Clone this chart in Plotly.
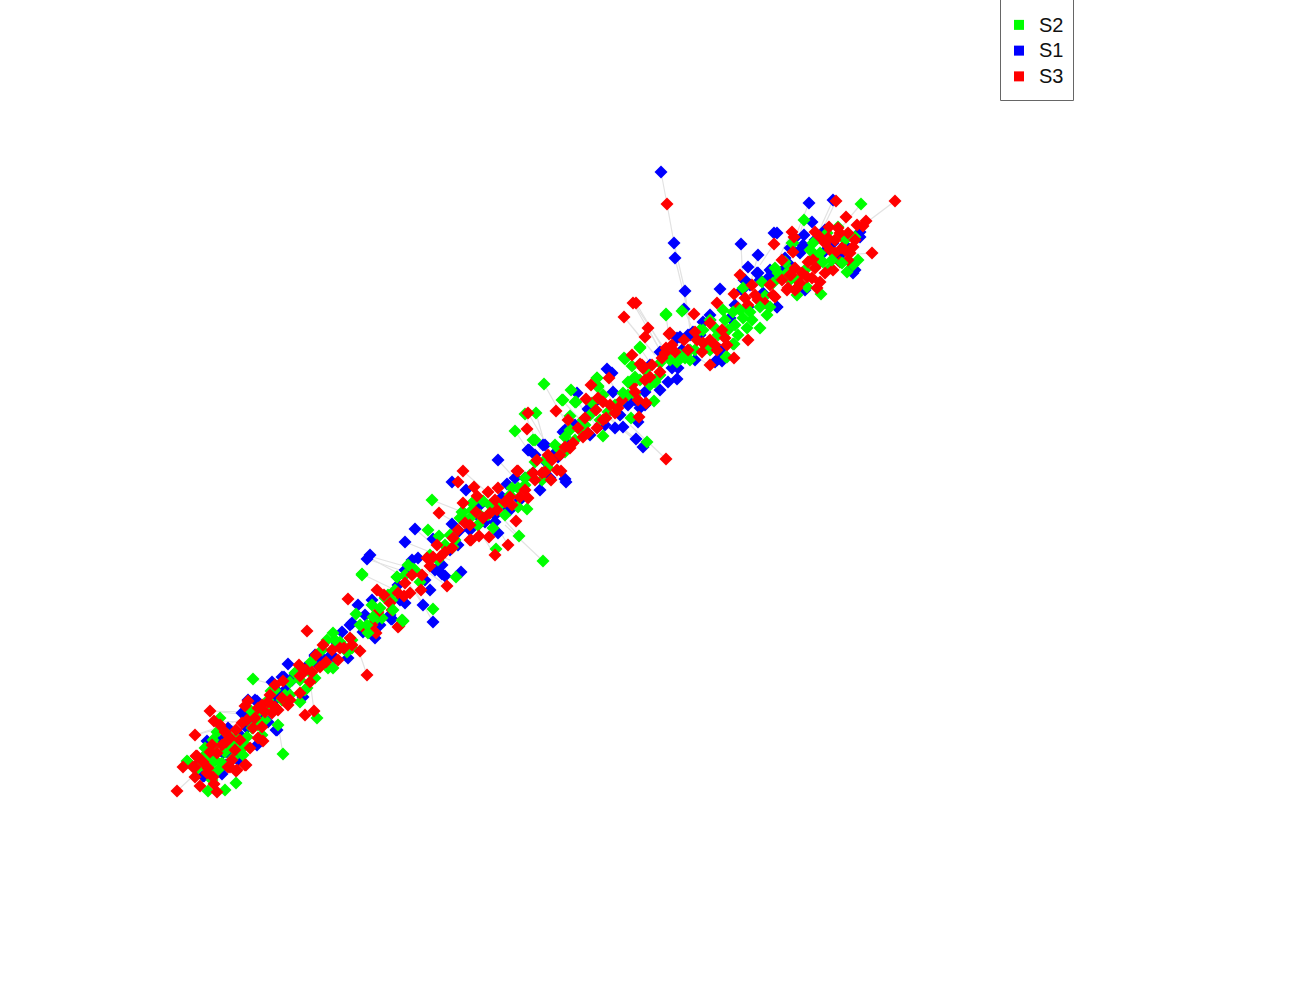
import plotly.graph_objects as go

s2_points = [
(861,204),(804,220),(666,315),(682,311),(640,348),(625,359),(760,328),(821,294),(743,288),(734,344),(726,357),(793,243),
(283,754),(253,679),(317,718),(208,791),(225,790),(236,783),(187,761),(220,718),(271,691),
(432,500),(428,530),(439,536),(362,574),(413,569),(397,577),(456,577),(433,609),(402,620),(496,549),(519,536),(543,561),(527,509),(356,614),
(544,384),(571,390),(562,400),(576,402),(597,378),(598,387),(536,413),(525,414),(515,431),(533,440),(666,314),(647,442),(631,418),(603,436),(583,420),(632,366),
(210,765),(218,770),(205,755),(225,752),(235,742),(245,745),(252,728),(228,735),(215,745),(260,710),(268,700),(275,690),(290,695),(300,680),(310,672),(322,650),(335,640),(345,648),(352,640),(375,620),(385,598),(395,590),(405,575),(415,570),(430,555),(445,545),(455,540),(465,520),(472,510),(480,515),(490,505),(462,512),(478,525),(500,505),(510,495),(525,485),(535,462),(545,460),(555,445),(570,430),(585,425),(560,450),(600,420),(615,405),(628,395),(640,380),(650,385),(660,375),(670,360),(680,355),(690,350),(705,345),(718,335),(725,320),(735,325),
(217,732),(213,740),(205,748),(215,760),(188,762),(207,758),(222,763),(208,770),(237,738),(247,737),(251,711),(258,725),(233,758),(265,720),(278,725),(300,702),(295,673),(285,695),(243,755),
(397,577),(403,621),(388,595),(333,633),(347,652),(311,662),(333,668),(295,673),(307,688),(327,640),
(472,503),(463,512),(460,518),(483,501),(478,525),(518,488),(518,507),(525,478),(542,480),(535,440),(447,548),(453,547),(493,528),
(640,347),(624,358),(597,378),(598,386),(563,400),(575,402),(592,403),(603,395),(654,401),(580,430),(570,416),(660,363),(685,358),(695,350),(677,362),(565,437),
(778,273),(773,283),(762,282),(797,280),(710,320),(703,330),(727,357),(733,344),
(838,227),(827,233),(813,243),(792,243),(847,272),(853,265),(858,260),(790,280),(807,287),(797,295),(775,268),(780,277),(855,237),
(198,768),(212,780),(228,745),(240,750),(255,715),(262,735),(272,708),(282,700),(290,682),(305,690),(315,678),(328,668),(340,642),(352,648),(372,605),(382,618),(392,600),(408,565),(420,582),(438,560),(450,535),(470,518),(488,515),(505,515),(512,488),(530,475),(548,468),(565,452),(575,440),(590,415),(608,412),(620,402),(635,395),(645,370),(655,382),(668,352),(690,360),(700,330),(710,350),(715,328),(728,330),(738,335),(752,320),(765,296),(785,275),(790,270),(815,255),(830,268),(845,240),(805,270),(785,262),
]
s1_points = [
(661,172),(674,243),(675,258),(685,291),(684,309),(809,203),(833,200),(774,233),(777,233),(812,222),(741,244),(758,255),(748,267),(758,273),(744,280),(720,289),(804,235),(860,237),
(288,664),(315,655),(204,776),(222,774),(200,762),(276,730),(303,697),(207,741),(284,677),(248,700),(257,701),
(415,529),(405,542),(452,524),(367,559),(370,555),(452,482),(466,490),(498,460),(566,482),(498,533),(461,572),(445,576),(442,574),(423,605),(433,622),(392,619),(372,600),(380,625),(405,570),(433,539),
(607,369),(612,373),(577,393),(643,447),(636,439),(615,428),(623,427),(677,379),(638,422),(588,409),(528,450),(565,479),(717,360),(722,361),(563,432),(545,445),(548,462),
(215,760),(222,740),(230,755),(240,735),(250,715),(262,712),(275,700),(285,690),(295,675),(318,665),(335,658),(350,625),(365,615),(390,615),(400,600),(412,560),(425,580),(435,570),(450,550),(470,530),(485,522),(495,515),(510,510),(525,478),(540,490),(553,455),(568,445),(590,435),(605,425),(620,415),(635,400),(645,405),(660,390),(672,368),(690,335),(700,335),(710,320),(720,350),(735,305),(750,285),(770,270),(780,275),(790,265),(800,250),(815,240),(830,245),(845,245),(855,270),(850,270),
(217,741),(203,776),(223,753),(238,752),(251,722),(242,713),(277,730),(282,677),(292,680),(228,728),(257,745),(255,700),(278,692),
(391,619),(315,656),(328,658),(352,623),(337,643),(292,680),(348,658),(405,603),(363,632),
(459,531),(507,484),(502,497),(508,508),(529,450),(543,445),(547,463),(558,457),(533,473),(477,515),(495,522),
(613,392),(645,392),(678,368),(640,408),(589,410),(600,425),(565,430),(680,337),(677,338),(688,335),(660,352),
(757,273),(745,280),(693,332),(777,307),(722,359),(715,362),(748,307),(772,272),(710,315),(703,322),(763,293),
(860,232),(803,245),(790,248),(783,270),(827,243),(838,260),(853,273),(805,290),(777,307),(773,277),(800,253),(823,253),(833,243),
(212,750),(226,765),(238,760),(247,728),(268,722),(272,682),(305,668),(322,658),(342,632),(358,605),(375,638),(398,585),(418,558),(430,590),(442,565),(458,545),(480,505),(515,478),(520,500),(535,455),(550,478),(575,425),(595,402),(628,405),(650,365),(668,382),(682,350),(695,360),(730,318),(742,290),(760,280),(768,278),(785,258),(795,238),(840,255),(825,230),
]
s3_points = [
(667,204),(836,201),(895,201),(846,217),(774,244),(792,232),(794,237),(829,227),(857,225),(866,221),(863,226),(872,253),(782,260),(740,275),(734,294),(717,303),(694,314),(633,303),(636,303),(624,317),(648,328),(645,337),(632,355),(669,334),(710,365),(734,358),(748,340),
(177,791),(210,711),(195,735),(214,721),(200,786),(217,792),(214,784),(183,767),(195,777),(196,756),(367,675),(360,651),(314,711),(305,715),(299,665),(246,765),(236,771),(193,767),(230,767),
(463,471),(458,482),(474,487),(439,513),(447,586),(348,599),(399,626),(495,555),(508,545),(489,537),(479,536),(516,521),(471,540),(551,480),(421,590),(377,590),
(609,378),(591,385),(556,411),(568,420),(527,429),(528,413),(666,459),(586,399),(642,365),(518,471),(561,471),
(248,701),(245,706),(258,708),(268,702),(275,707),(265,712),(242,723),(247,720),(253,728),(262,727),(272,713),(278,710),(275,685),(283,681),(288,705),(225,732),(230,738),(220,725),(250,748),(263,741),(258,738),(210,752),(217,753),(197,756),(195,767),(208,768),(237,770),(228,767),(245,765),(207,773),(213,777),(232,760),
(405,583),(410,593),(390,603),(378,612),(398,593),(376,633),(398,627),(350,638),(307,631),(323,645),(332,650),(340,648),(338,660),(320,667),(312,672),(310,682),(300,693),
(477,496),(488,492),(498,488),(463,503),(510,497),(517,471),(528,498),(537,460),(533,473),(542,473),(548,455),(470,540),(465,523),(483,518),(497,510),(490,513),(437,545),(433,557),(440,557),(427,558),(453,538),(520,497),(557,470),
(640,364),(643,368),(603,402),(598,398),(610,405),(618,408),(635,392),(638,400),(646,403),(639,417),(660,372),(650,377),(670,333),(675,352),(665,353),(688,350),(597,428),(588,433),(583,437),(573,443),(565,447),(603,420),(615,413),(666,348),
(752,285),(773,295),(765,303),(755,295),(745,298),(788,288),(797,288),(790,275),(717,350),(727,345),(722,330),(710,323),(703,343),(697,340),(710,340),
(815,232),(820,237),(825,243),(840,233),(848,233),(835,240),(812,259),(791,275),(793,252),(835,253),(850,253),(848,260),(840,262),(833,270),(825,273),(820,282),(817,288),(807,277),(812,278),(787,290),(795,290),(775,297),(802,273),(853,247),(842,248),
(203,762),(212,745),(222,745),(235,750),(226,742),(240,740),(236,730),(255,718),(262,705),(270,695),(282,698),(290,700),(300,676),(306,670),(316,655),(326,662),(344,648),(352,645),(366,630),(372,625),(384,595),(392,610),(404,596),(412,575),(422,575),(430,566),(445,552),(452,548),(458,530),(470,525),(476,512),(495,500),(505,502),(512,505),(525,490),(535,480),(545,472),(552,460),(560,455),(570,448),(578,428),(585,418),(596,410),(606,418),(622,400),(632,385),(645,380),(652,365),(662,358),(672,345),(684,340),(695,332),(702,352),(715,345),(725,338),(738,308),(748,305),(758,300),(770,285),(782,280),(795,268),(808,262),(820,262),(830,250),(845,250),(855,240),(838,228),(828,238),(815,268),(800,283),
]
s2_over_points = [
(362,575),(367,625),(373,617),(360,625),(403,621),(393,610),(380,608),(368,633),
(628,382),(635,377),(623,393),(723,310),(733,312),(740,310),(750,312),(760,307),(770,307),(767,315),(747,328),(743,318),
(823,262),(820,253),(832,260),(810,250),(842,263),
]
edge_from = [
(661,172),(667,204),(674,243),(675,258),(684,309),(685,291),(895,201),(833,200),(809,203),(861,204),(741,244),(758,255),(774,244),(633,303),(636,303),(635,305),(624,317),(648,328),(666,315),
(177,791),(283,754),(253,679),(195,735),(210,711),(367,675),(314,711),
(543,561),(519,536),(367,559),(369,556),(370,558),(362,574),(405,542),(415,529),(432,500),(439,513),
(544,384),(571,390),(525,414),(515,431),(528,413),(536,413),(666,459),(643,447),(597,378),(591,385),(609,378),(562,400),(576,402),
(214,721),(210,711),(195,735),(872,253),(836,201),(804,220),(792,232),(498,460),(551,480),(463,471),(447,586),(423,605),(433,622),(495,555),(508,545),
(556,411),(568,420),(603,436),(636,439),(710,366),(640,348),
]
edge_to = [
(667,204),(674,243),(685,291),(690,320),(695,335),(690,330),(850,235),(815,240),(790,250),(835,235),(743,285),(750,285),(760,265),(660,350),(665,352),(662,345),(655,355),(665,360),(670,345),
(205,765),(279,730),(275,685),(235,725),(250,715),(355,640),(310,680),
(505,525),(495,510),(415,575),(418,570),(410,580),(395,590),(450,560),(440,550),(470,515),(460,525),
(570,430),(590,420),(540,450),(535,460),(550,450),(545,445),(630,425),(605,415),(615,405),(610,410),(620,400),(585,425),(595,420),
(250,722),(245,712),(240,720),(845,255),(815,245),(795,250),(780,255),(530,495),(535,470),(490,495),(425,570),(410,585),(415,590),(475,525),(490,515),
(580,425),(590,425),(585,410),(600,410),(680,345),(655,370),
]
legend_names = ["S2", "S1", "S3"]
legend_colors = ["#00ff00", "#0000ff", "#ff0000"]

def xs(pts): return [p[0] for p in pts]
def ys(pts): return [p[1] for p in pts]

edge_x, edge_y = [], []
for a, b in zip(edge_from, edge_to):
    edge_x += [a[0], b[0], None]
    edge_y += [a[1], b[1], None]

fig = go.Figure()
fig.add_trace(go.Scatter(x=edge_x, y=edge_y, mode="lines", line=dict(color="#e2e2e2", width=1.2),
                         hoverinfo="skip", showlegend=False))
for pts, color, name in [(s1_points, "#0000ff", "S1"), (s2_points, "#00ff00", "S2"),
                         (s3_points, "#ff0000", "S3"), (s2_over_points, "#00ff00", "S2")]:
    fig.add_trace(go.Scatter(x=xs(pts), y=ys(pts), mode="markers", name=name, showlegend=False,
                             marker=dict(symbol="diamond", size=10, color=color, line=dict(width=0))))
for i, (name, color) in enumerate(zip(legend_names, legend_colors)):
    fig.add_trace(go.Scatter(x=[None], y=[None], mode="markers",
                             name=f'<span style="font-size:20px">{name}</span>', legendrank=i + 1,
                             marker=dict(symbol="square", size=10, color=color)))

fig.update_layout(
    width=1300, height=1000, margin=dict(l=0, r=0, t=0, b=0),
    paper_bgcolor="white", plot_bgcolor="white",
    font=dict(family="Liberation Sans", size=17.5, color="#111111"),
    xaxis=dict(range=[0, 1300], visible=False),
    yaxis=dict(range=[1000, 0], visible=False),
    legend=dict(x=999 / 1300, y=1 - 7 / 1000, xanchor="left", yanchor="top", bgcolor="rgba(0,0,0,0)",
                borderwidth=0, traceorder="normal"),
    shapes=[dict(type="rect", xref="paper", yref="paper", x0=1000.5 / 1300, x1=1073.5 / 1300,
                 y0=1 - 100.5 / 1000, y1=1.002, line=dict(color="#666666", width=1), fillcolor="rgba(0,0,0,0)")],
)
fig.write_html("out.html", config={"displayModeBar": False}, post_script="document.body.style.margin='0';")
